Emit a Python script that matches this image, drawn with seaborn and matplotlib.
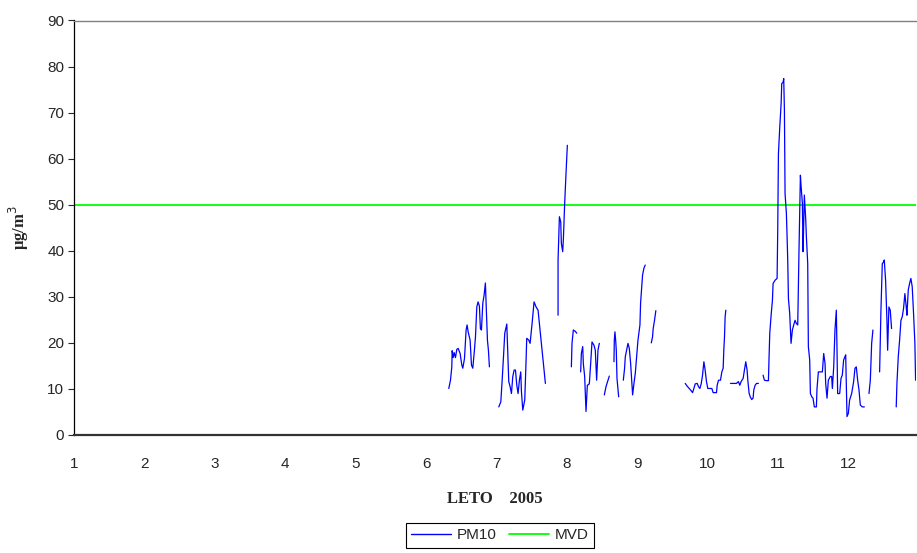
import numpy as np
import pandas as pd
import matplotlib
matplotlib.use("Agg")
import matplotlib.pyplot as plt
from matplotlib.lines import Line2D
import seaborn as sns

# ---- data (x in month units, y in ug/m3) ----
jun_x = [6.323, 6.347, 6.366, 6.371, 6.385, 6.399, 6.418, 6.437, 6.456, 6.484, 6.508, 6.522,
         6.546, 6.569, 6.583, 6.598, 6.626, 6.645, 6.664, 6.687, 6.702, 6.721, 6.739, 6.758,
         6.772, 6.787, 6.806, 6.825, 6.843, 6.853, 6.872, 6.886, 6.900]
jun_y = [10.1, 11.9, 14.8, 18.3, 16.8, 17.9, 16.8, 18.6, 18.8, 17.7, 15.2, 14.5,
         16.6, 22.8, 23.9, 22.4, 20.6, 15.2, 14.5, 18.4, 21.3, 27.8, 28.9, 28.0,
         23.1, 22.8, 28.6, 30.4, 33.0, 28.6, 20.6, 18.4, 14.8]

jul_x = [7.033, 7.062, 7.081, 7.100, 7.118, 7.147, 7.166, 7.175, 7.194, 7.213, 7.232, 7.251,
         7.270, 7.289, 7.307, 7.326, 7.345, 7.355, 7.374, 7.402, 7.421, 7.430, 7.459, 7.478,
         7.506, 7.534, 7.563, 7.591, 7.610, 7.638, 7.667, 7.695]
jul_y = [6.1, 7.2, 11.9, 17.0, 22.1, 24.1, 15.5, 11.6, 10.5, 9.0, 12.7, 14.1,
         14.1, 10.8, 9.0, 11.9, 13.7, 9.4, 5.4, 7.6, 16.3, 21.0, 20.6, 19.9,
         24.2, 28.9, 27.8, 27.1, 24.2, 19.9, 15.5, 11.2]

aug_peak_x = [7.875, 7.875, 7.894, 7.913, 7.922, 7.941, 7.951, 7.969, 7.988, 8.007]
aug_peak_y = [26.0, 38.0, 47.4, 46.3, 41.6, 39.8, 42.7, 50.3, 56.8, 62.9]

aug_a_x = [8.064, 8.073, 8.092, 8.121, 8.140]
aug_a_y = [14.8, 19.9, 22.8, 22.5, 22.1]

aug_b_x = [8.196, 8.206, 8.225, 8.234, 8.253, 8.272, 8.291, 8.319, 8.338, 8.357, 8.385,
           8.404, 8.423, 8.442, 8.461]
aug_b_y = [13.7, 17.7, 19.2, 15.5, 12.7, 5.1, 10.8, 11.1, 15.5, 20.2, 19.5,
           18.4, 11.9, 18.4, 19.9]

aug_c_x = [8.532, 8.556, 8.603]
aug_c_y = [8.7, 10.5, 12.8]

sep_a_x = [8.669, 8.674, 8.683, 8.693, 8.702, 8.712, 8.736]
sep_a_y = [15.9, 20.6, 22.4, 20.6, 18.4, 12.3, 8.3]

sep_b_x = [8.802, 8.820, 8.830, 8.868, 8.887, 8.906, 8.934, 8.953, 8.972, 8.991, 9.010,
           9.038, 9.047, 9.075, 9.094, 9.113]
sep_b_y = [11.9, 14.5, 17.0, 19.9, 18.8, 15.5, 8.7, 11.2, 13.4, 17.0, 20.6,
           23.9, 28.6, 34.7, 36.2, 36.9]

sep_c_x = [9.199, 9.217, 9.226, 9.245, 9.264]
sep_c_y = [20.0, 21.3, 23.1, 24.9, 27.0]

oct_a_x = [9.681, 9.709, 9.738, 9.766, 9.785, 9.804, 9.823, 9.851, 9.870, 9.889, 9.908,
           9.927, 9.946, 9.964, 9.983, 10.002, 10.031, 10.059, 10.078, 10.097, 10.125,
           10.135, 10.154, 10.182, 10.201, 10.220, 10.229, 10.239, 10.248, 10.258]
oct_a_y = [11.2, 10.6, 10.1, 9.6, 9.2, 10.1, 11.1, 11.2, 10.5, 10.1, 11.1,
           13.0, 15.9, 14.1, 11.6, 10.1, 10.1, 10.1, 9.2, 9.2, 9.2,
           10.8, 11.9, 11.9, 13.7, 14.5, 18.4, 21.3, 25.7, 27.1]

oct_b_x = [10.324, 10.362, 10.409, 10.437, 10.456, 10.475, 10.504, 10.522, 10.541, 10.560,
           10.570, 10.589, 10.607, 10.626, 10.645, 10.655, 10.674, 10.693, 10.721]
oct_b_y = [11.2, 11.2, 11.2, 11.6, 10.8, 11.6, 12.3, 14.1, 15.9, 14.1,
           11.9, 9.0, 8.2, 7.7, 8.0, 9.8, 10.8, 11.2, 11.2]

nov_x = [10.787, 10.806, 10.834, 10.863, 10.872, 10.882, 10.901, 10.920, 10.929, 10.957,
         10.986, 10.995, 11.005, 11.024, 11.043, 11.052, 11.071, 11.080, 11.090, 11.099,
         11.118, 11.128, 11.137, 11.147, 11.165, 11.184, 11.203, 11.222, 11.241, 11.260,
         11.279, 11.298, 11.317, 11.326, 11.345, 11.355, 11.364, 11.373, 11.392, 11.402,
         11.421, 11.430, 11.449, 11.459, 11.478, 11.496, 11.515, 11.544, 11.553, 11.572,
         11.581, 11.629, 11.648, 11.667, 11.676, 11.695, 11.714, 11.742, 11.761, 11.771,
         11.790, 11.808, 11.827, 11.837, 11.846, 11.875, 11.894, 11.912, 11.931, 11.950,
         11.960, 11.979, 11.998, 12.016, 12.045, 12.073, 12.092, 12.111, 12.130, 12.149,
         12.168, 12.196, 12.225]
nov_y = [13.0, 11.9, 11.8, 11.8, 17.0, 22.1, 26.0, 29.3, 32.9, 33.6,
         34.0, 44.5, 61.1, 66.9, 71.9, 76.3, 76.6, 77.4, 70.5, 52.4,
         48.1, 43.0, 38.0, 29.6, 26.4, 19.9, 22.8, 23.9, 24.9, 24.2,
         23.9, 40.9, 56.4, 54.2, 50.3, 39.8, 45.9, 52.1, 47.0, 43.0,
         37.2, 19.2, 16.3, 9.0, 8.3, 8.0, 6.1, 6.1, 10.1, 13.7,
         13.7, 13.7, 17.7, 15.5, 11.2, 8.0, 11.9, 12.7, 12.7, 10.1,
         14.8, 22.8, 27.1, 18.4, 9.0, 9.0, 12.3, 13.0, 16.3, 17.0,
         17.4, 4.0, 4.7, 7.6, 9.0, 11.6, 14.5, 14.8, 11.9, 9.8,
         6.5, 6.1, 6.1]

dec_a_x = [12.291, 12.310, 12.329, 12.347]
dec_a_y = [9.0, 11.9, 19.9, 22.8]

dec_b_x = [12.442, 12.461, 12.480, 12.499, 12.508, 12.527, 12.546, 12.556, 12.574, 12.593, 12.612]
dec_b_y = [13.7, 27.1, 37.2, 37.6, 38.0, 33.6, 24.9, 18.4, 27.8, 27.1, 23.1]

dec_c_x = [12.678, 12.688, 12.707, 12.726, 12.745, 12.764, 12.782, 12.801, 12.820, 12.830,
           12.849, 12.868, 12.886, 12.905, 12.924, 12.943, 12.953]
dec_c_y = [6.1, 11.2, 17.0, 20.6, 24.9, 25.7, 27.5, 30.7, 27.8, 26.0,
           31.5, 32.9, 34.0, 32.2, 26.4, 19.9, 11.9]

mvd_x = [1, 12.96]
mvd_y = [50, 50]

x_ticks = list(range(1, 13))
y_ticks = list(range(0, 91, 10))

segments = [(jun_x, jun_y), (jul_x, jul_y), (aug_peak_x, aug_peak_y), (aug_a_x, aug_a_y),
            (aug_b_x, aug_b_y), (aug_c_x, aug_c_y), (sep_a_x, sep_a_y), (sep_b_x, sep_b_y),
            (sep_c_x, sep_c_y), (oct_a_x, oct_a_y), (oct_b_x, oct_b_y), (nov_x, nov_y),
            (dec_a_x, dec_a_y), (dec_b_x, dec_b_y), (dec_c_x, dec_c_y)]

frames = []
for i, (sx, sy) in enumerate(segments):
    frames.append(pd.DataFrame({"x": sx, "y": sy, "seg": i, "order": range(len(sx))}))
pm10 = pd.concat(frames, ignore_index=True)
mvd = pd.DataFrame({"x": mvd_x, "y": mvd_y})

# ---- plot ----
sns.set_style("white")
plt.rcParams["font.family"] = ["Liberation Sans", "DejaVu Sans"]

fig = plt.figure(figsize=(9.17, 5.53), dpi=100)
ax = fig.add_axes([74 / 917, 1 - 435 / 553, 1 - 74 / 917 - 0.001, (435 - 20.5) / 553])

sns.lineplot(data=mvd, x="x", y="y", color="#00FF00", linewidth=1.3, ax=ax,
             estimator=None, legend=False)
sns.lineplot(data=pm10, x="x", y="y", units="seg", estimator=None, sort=False,
             color="#0000FF", linewidth=0.9, ax=ax, legend=False)

ax.set_xlim(1, 12.96)
ax.set_ylim(0, 90)
ax.set_xticks(x_ticks)
ax.set_xticklabels([str(t) for t in x_ticks])
ax.set_yticks(y_ticks)
ax.tick_params(axis="x", length=0, pad=16, labelsize=11)
ax.tick_params(axis="y", length=4, width=0.8, direction="out", pad=3, labelsize=11,
               left=True)
ax.spines["right"].set_visible(False)
ax.spines["top"].set_color("#808080")
ax.spines["top"].set_linewidth(1.0)
ax.spines["left"].set_color("black")
ax.spines["left"].set_linewidth(0.9)
ax.spines["bottom"].set_color("#333333")
ax.spines["bottom"].set_linewidth(1.6)

ax.set_xlabel("LETO    2005", fontsize=12, fontweight="bold",
              family=["Liberation Serif", "DejaVu Serif"], labelpad=14)
ax.set_ylabel("µg/m$^{3}$", fontsize=12, fontweight="bold",
              family=["Liberation Serif", "DejaVu Serif"], labelpad=12)

handles = [Line2D([0], [0], color="#0000FF", lw=1.0),
           Line2D([0], [0], color="#00FF00", lw=1.3)]
leg = fig.legend(handles, ["PM10", "MVD"], loc="upper center", ncol=2,
                 bbox_to_anchor=(0.545, 1 - 523 / 553), frameon=True, fancybox=False,
                 edgecolor="black", framealpha=1, fontsize=11, handlelength=2.6,
                 handletextpad=0.4, columnspacing=0.8, borderpad=0.35, borderaxespad=0)
leg.get_frame().set_linewidth(0.8)

fig.savefig("out.png", dpi=100)
